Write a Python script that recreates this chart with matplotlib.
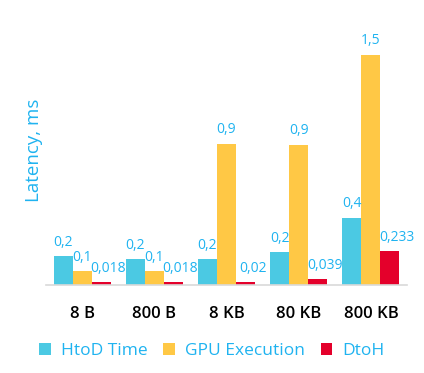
import numpy as np
import matplotlib.pyplot as plt
from matplotlib.patches import Patch

categories = ['8 B', '800 B', '8 KB', '80 KB', '800 KB']
series = ['HtoD Time', 'GPU Execution', 'DtoH']
htod = [0.197, 0.177, 0.177, 0.224, 0.456]
gpu = [0.095, 0.095, 0.959, 0.952, 1.565]
dtoh = [0.018, 0.018, 0.02, 0.039, 0.231]
htod_labels = ['0,2', '0,2', '0,2', '0,2', '0,4']
gpu_labels = ['0,1', '0,1', '0,9', '0,9', '1,5']
dtoh_labels = ['0,018', '0,018', '0,02', '0,039', '0,233']

colors = ['#4bc9e3', '#ffc845', '#e4002b']
text_blue = '#1fb3f0'

plt.rcParams['font.family'] = ['Open Sans', 'DejaVu Sans']

fig = plt.figure(figsize=(4.24, 3.73), dpi=100)
ax = fig.add_axes([46 / 424, 88 / 373, 361 / 424, 265 / 373])

x = np.arange(len(categories))
w = 0.264
data = [htod, gpu, dtoh]
labels = [htod_labels, gpu_labels, dtoh_labels]
shifts = [0, 0, 5]
for i, (vals, labs) in enumerate(zip(data, labels)):
    pos = x + (i - 1) * w
    ax.bar(pos, vals, width=w, color=colors[i], linewidth=0)
    for px, v, t in zip(pos, vals, labs):
        ax.annotate(t, (px, v), xytext=(shifts[i], 7.5), textcoords='offset points',
                    ha='center', va='baseline', color=text_blue, fontsize=10)

ax.set_xlim(-0.5, 4.5)
ax.set_ylim(0, 1.8)
for s in ['top', 'right', 'left']:
    ax.spines[s].set_visible(False)
ax.spines['bottom'].set_color('#d9d9d9')
ax.spines['bottom'].set_linewidth(1.2)
ax.set_yticks([])
ax.set_xticks(x)
ax.set_xticklabels(categories, fontsize=12, fontweight='semibold', color='black')
ax.tick_params(axis='x', length=0, pad=15)

fig.text(34 / 424, 1 - 150 / 373, 'Latency, ms', rotation=90, ha='center', va='center',
         color=text_blue, fontsize=13.5)

handles = [Patch(facecolor=c, edgecolor='none') for c in colors]
fig.legend(handles, series, loc='center', bbox_to_anchor=(0.5, 1 - 351 / 373), ncol=3,
           frameon=False, fontsize=12.5, labelcolor=text_blue,
           handlelength=0.65, handleheight=0.65, handletextpad=0.6, columnspacing=0.9)

fig.savefig('out.png', dpi=100)
